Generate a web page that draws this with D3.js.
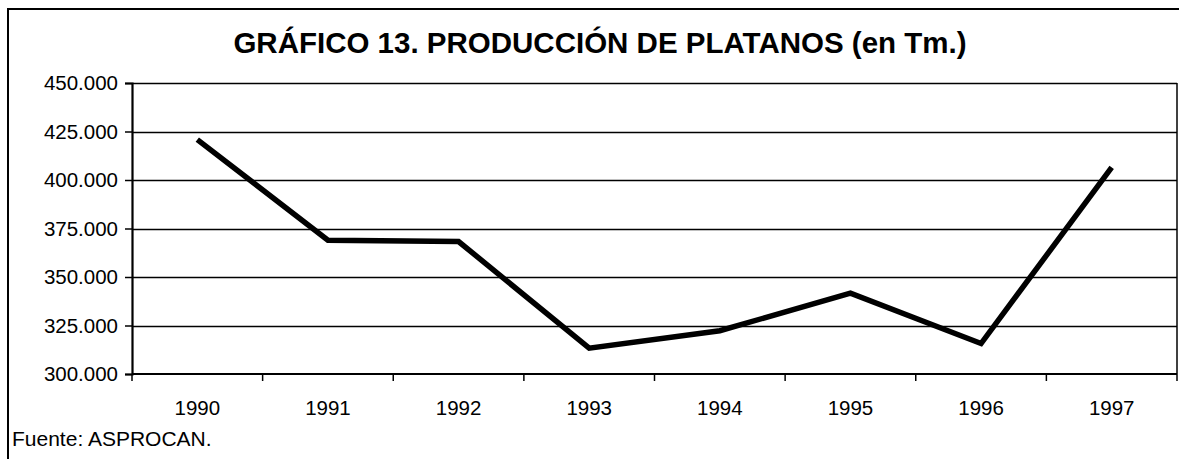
<!DOCTYPE html>
<html>
<head>
<meta charset="utf-8">
<script src="https://cdn.jsdelivr.net/npm/d3@7"></script>
<style>
  html, body { margin: 0; padding: 0; background: #fff; }
  svg text { font-family: Arial, "Liberation Sans", sans-serif; fill: #000; }
</style>
</head>
<body>
<div id="chart"></div>
<script>
// data (Tm.)
const years = ["1990", "1991", "1992", "1993", "1994", "1995", "1996", "1997"];
const production = [420800, 369000, 368300, 313300, 322300, 341700, 315700, 406500];
const yTicks = [300000, 325000, 350000, 375000, 400000, 425000, 450000];
const title = "GRÁFICO 13. PRODUCCIÓN DE PLATANOS (en Tm.)";
const source = "Fuente: ASPROCAN.";

const W = 1179, H = 459;
const margin = { top: 83, right: 2, bottom: 85, left: 132 };

const svg = d3.select("#chart")
  .append("svg")
  .attr("width", W)
  .attr("height", H);

// outer frame (cropped on the right and bottom)
svg.append("rect")
  .attr("x", 8)
  .attr("y", 9)
  .attr("width", W + 20)
  .attr("height", H + 20)
  .attr("fill", "none")
  .attr("stroke", "#000")
  .attr("stroke-width", 2);

const x = d3.scaleBand()
  .domain(years)
  .range([margin.left, W - margin.right]);

const y = d3.scaleLinear()
  .domain([300000, 450000])
  .range([H - margin.bottom, margin.top]);

const es = d3.formatLocale({ decimal: ",", thousands: ".", grouping: [3], currency: ["", "€"] });

// gridlines
svg.append("g")
  .selectAll("line")
  .data(yTicks.slice(1))
  .enter().append("line")
  .attr("x1", margin.left)
  .attr("x2", W - margin.right)
  .attr("y1", d => Math.round(y(d)) + 0.5)
  .attr("y2", d => Math.round(y(d)) + 0.5)
  .attr("stroke", "#000")
  .attr("stroke-width", 1.5);

// right border of plot area
svg.append("line")
  .attr("x1", W - margin.right)
  .attr("x2", W - margin.right)
  .attr("y1", y(450000))
  .attr("y2", y(300000))
  .attr("stroke", "#000")
  .attr("stroke-width", 1.5);

// y axis
const yAxis = svg.append("g")
  .attr("transform", `translate(${margin.left},0)`)
  .call(d3.axisLeft(y).tickValues(yTicks).tickFormat(d => es.format(",")(d)).tickSize(7).tickPadding(7));
yAxis.select(".domain").attr("stroke-width", 2.2);
yAxis.selectAll(".tick line").attr("stroke-width", 1.5);
yAxis.selectAll("text")
  .attr("font-size", "20.5px")
  .style("font-family", "Arial, 'Liberation Sans', sans-serif");

// x axis with ticks between categories
const xAxisG = svg.append("g")
  .attr("transform", `translate(0,${y(300000)})`);
xAxisG.append("line")
  .attr("x1", margin.left)
  .attr("x2", W - margin.right)
  .attr("stroke", "#000")
  .attr("stroke-width", 2.2);
xAxisG.selectAll("line.tk")
  .data(years.concat(["end"]))
  .enter().append("line")
  .attr("class", "tk")
  .attr("x1", (d, i) => i < years.length ? x(d) : x.range()[1])
  .attr("x2", (d, i) => i < years.length ? x(d) : x.range()[1])
  .attr("y1", 0)
  .attr("y2", 7)
  .attr("stroke", "#000")
  .attr("stroke-width", 1.5);
xAxisG.selectAll("text")
  .data(years)
  .enter().append("text")
  .attr("x", d => x(d) + x.bandwidth() / 2)
  .attr("y", 41)
  .attr("text-anchor", "middle")
  .attr("font-size", "20.5px")
  .text(d => d);

// series line
const line = d3.line()
  .x((d, i) => x(years[i]) + x.bandwidth() / 2)
  .y(d => y(d));

svg.append("path")
  .datum(production)
  .attr("fill", "none")
  .attr("stroke", "#000")
  .attr("stroke-width", 5.5)
  .attr("stroke-linejoin", "miter")
  .attr("d", line);

// title
svg.append("text")
  .attr("x", 600)
  .attr("y", 53)
  .attr("text-anchor", "middle")
  .attr("font-size", "29.5px")
  .attr("font-weight", "bold")
  .text(title);

// source
svg.append("text")
  .attr("x", 12)
  .attr("y", 446)
  .attr("font-size", "21px")
  .text(source);
</script>
</body>
</html>
